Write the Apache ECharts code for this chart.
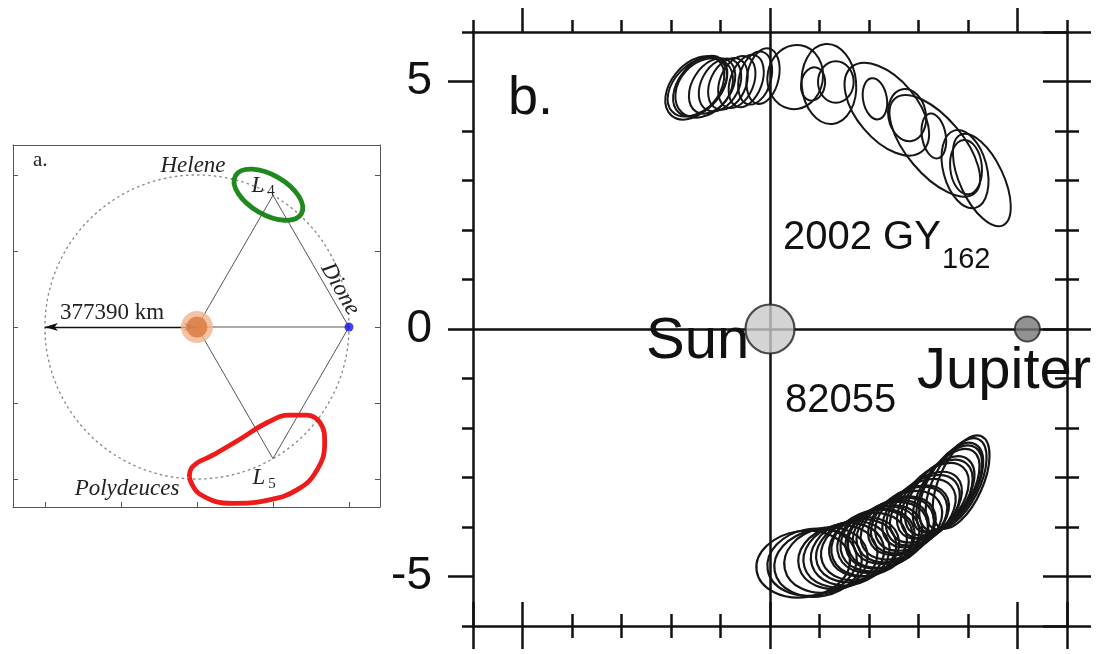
<!DOCTYPE html>
<html>
<head>
<meta charset="utf-8">
<script src="https://cdn.jsdelivr.net/npm/echarts@6/dist/echarts.min.js"></script>
<style>
  html, body { margin: 0; padding: 0; background: #fff; }
  #chart { width: 1110px; height: 654px; }
</style>
</head>
<body>
<div id="chart"></div>
<script>
  // panel a: Saturn system, distances in units of Dione's orbit radius
  const orbitR = 1;
  const saturnPos = [0, 0];
  const dionePos = [1, 0];
  const rhombX = [0, 0.5, 1, 0.5, 0];
  const rhombY = [0, 0.866, 0, -0.866, 0];
  // Helene loop: centre x, centre y, semi-major, semi-minor, angle (deg)
  const heleneLoop = [0.47, 0.87, 0.25, 0.13, -30];
  const polyX = [-0.05, 0.02, 0.24, 0.46, 0.66, 0.79, 0.84, 0.81, 0.72, 0.61, 0.46, 0.28, 0.11, -0.03, -0.05];
  const polyY = [-0.99, -1.10, -1.16, -1.14, -1.07, -0.94, -0.76, -0.63, -0.58, -0.58, -0.63, -0.74, -0.84, -0.92, -0.99];

  // panel b: heliocentric frame (AU), loops of 2002 GY162 and 82055
  const sunPos = [0, 0];
  const jupiterPos = [5.2, 0];
  const gyX = [-1.52, -1.47, -1.41, -1.33, -1.17, -1.01, -0.85, -0.67, -0.48, -0.30, -0.14, 0.51, 0.87, 1.19, 1.33, 2.36, 2.12, 2.77, 3.31, 3.33, 3.96, 3.94, 4.28];
  const gyY = [4.87, 4.89, 4.91, 4.87, 4.91, 4.93, 4.95, 4.99, 5.01, 5.07, 5.11, 5.09, 4.95, 4.95, 4.99, 4.44, 4.65, 4.32, 3.90, 3.70, 3.27, 3.23, 3.01];
  const gyA = [0.73, 0.71, 0.69, 0.67, 0.61, 0.57, 0.55, 0.55, 0.55, 0.55, 0.57, 0.65, 0.34, 0.81, 0.42, 1.11, 0.42, 0.53, 0.46, 1.25, 0.55, 0.81, 1.01];
  const gyB = [0.48, 0.46, 0.44, 0.50, 0.40, 0.38, 0.36, 0.34, 0.32, 0.32, 0.32, 0.56, 0.24, 0.55, 0.36, 0.61, 0.24, 0.38, 0.24, 0.57, 0.32, 0.44, 0.44];
  const gyRot = [50, 45, 52, 48, 58, 62, 65, 68, 70, 74, 78, 80, 80, 95, 90, 130, 100, 100, 100, 130, 95, 105, 115];
  const ngX = [0.67, 0.85, 0.97, 1.13, 1.37, 1.49, 1.62, 1.74, 1.82, 1.98, 2.06, 2.14, 2.22, 2.30, 2.38, 2.44, 2.53, 2.59, 2.73, 2.81, 2.87, 3.01, 3.09, 3.15, 3.29, 3.37, 3.43, 3.56, 3.62, 3.66, 3.76, 3.86];
  const ngY = [-4.75, -4.71, -4.73, -4.67, -4.61, -4.57, -4.53, -4.48, -4.44, -4.36, -4.32, -4.28, -4.24, -4.20, -4.16, -4.10, -4.06, -4.02, -3.92, -3.86, -3.82, -3.72, -3.66, -3.60, -3.47, -3.43, -3.37, -3.27, -3.23, -3.19, -3.13, -3.09];
  const ngA = [0.95, 0.91, 0.89, 0.85, 0.81, 0.83, 0.81, 0.83, 0.81, 0.81, 0.85, 0.81, 0.83, 0.81, 0.85, 0.81, 0.83, 0.81, 0.81, 0.85, 0.83, 0.85, 0.87, 0.87, 0.91, 0.93, 0.93, 0.97, 0.99, 0.99, 1.01, 1.01];
  const ngB = [0.67, 0.67, 0.67, 0.65, 0.63, 0.63, 0.63, 0.61, 0.61, 0.61, 0.63, 0.61, 0.61, 0.59, 0.61, 0.59, 0.59, 0.57, 0.57, 0.57, 0.55, 0.55, 0.55, 0.53, 0.53, 0.53, 0.51, 0.48, 0.48, 0.48, 0.46, 0.44];
  const ngRot = [8, 10, 11, 12, 15, 17, 18, 19, 20, 22, 23, 24, 25, 26, 27, 28, 29, 30, 33, 35, 36, 40, 42, 44, 48, 50, 52, 56, 58, 60, 63, 66];

  const smallTicksA = [-1, -0.5, 0, 0.5, 1];
  const majorTicksB = [-5, 0, 5];
  const edgeTicksB = [-6, -5, 0, 5, 6];

  const zip = (...cols) => cols[0].map((_, i) => cols.map(c => c[i]));

  const serif = 'Liberation Serif';
  const sans = 'Liberation Sans';

  function ellipseItem (color, width) {
    return function (params, api) {
      const c = api.coord([api.value(0), api.value(1)]);
      const s = api.size([api.value(2), api.value(3)]);
      return {
        type: 'ellipse',
        x: c[0],
        y: c[1],
        rotation: api.value(4) * Math.PI / 180,
        shape: {cx: 0, cy: 0, rx: s[0], ry: s[1]},
        style: {fill: 'none', stroke: color, lineWidth: width}
      };
    };
  }

  // panel a frame
  function axisA (dim, position, ticks) {
    return {
      gridIndex: 0,
      type: 'value',
      position: position,
      min: dim === 'x' ? -1.21 : -1.184,
      max: dim === 'x' ? 1.204 : 1.197,
      axisLine: {show: true, onZero: false, lineStyle: {color: '#555', width: 1}},
      axisTick: {show: ticks, inside: true, length: 5, customValues: smallTicksA, lineStyle: {color: '#555', width: 1}},
      axisLabel: {show: false},
      splitLine: {show: false}
    };
  }

  // panel b frame: several axes per side so that ticks can be long/short and cross the line
  function axisB (position, tick, line, label) {
    return {
      gridIndex: 1,
      type: 'value',
      position: position,
      min: -6,
      max: 6,
      interval: 1,
      axisLine: {show: !!line, onZero: false, lineStyle: {color: '#111', width: 2.5}},
      axisTick: Object.assign({show: true, lineStyle: {color: '#111', width: 2.5}}, tick),
      axisLabel: label || {show: false},
      splitLine: {show: false}
    };
  }

  const myChart = echarts.init(document.getElementById('chart'));
  myChart.setOption({
    backgroundColor: '#fff',
    animation: false,
    grid: [
      {left: 13, top: 145, width: 367, height: 362, outerBoundsMode: 'none'},
      {left: 473, top: 32, width: 594, height: 594, outerBoundsMode: 'none'}
    ],
    xAxis: [
      axisA('x', 'bottom', true),
      axisA('x', 'top', false),
      axisB('bottom', {inside: true, length: 12}, true),
      axisB('bottom', {inside: false, length: 12}),
      axisB('bottom', {inside: true, length: 24, customValues: edgeTicksB}),
      axisB('bottom', {inside: false, length: 23, customValues: edgeTicksB}),
      axisB('top', {inside: false, length: 12}, true),
      axisB('top', {inside: false, length: 24, customValues: majorTicksB})
    ],
    yAxis: [
      axisA('y', 'left', true),
      axisA('y', 'right', true),
      axisB('left', {inside: false, length: 11}, true),
      axisB('left', {inside: false, length: 25, customValues: majorTicksB}, false, {
        show: true, customValues: majorTicksB, margin: 41,
        fontFamily: sans, fontSize: 46, color: '#111'
      }),
      axisB('right', {inside: true, length: 12}, true),
      axisB('right', {inside: false, length: 12}),
      axisB('right', {inside: true, length: 24, customValues: edgeTicksB}),
      axisB('right', {inside: false, length: 24, customValues: edgeTicksB})
    ],
    series: [
      {
        // dotted orbit of Dione
        type: 'custom',
        xAxisIndex: 0,
        yAxisIndex: 0,
        silent: true,
        data: [[saturnPos[0], saturnPos[1], orbitR]],
        renderItem: function (params, api) {
          const c = api.coord([api.value(0), api.value(1)]);
          const r = api.size([api.value(2), 0])[0];
          return {
            type: 'circle',
            shape: {cx: c[0], cy: c[1], r: r},
            style: {fill: 'none', stroke: '#8a8a8a', lineWidth: 1.4, lineDash: [1.4, 4.2], lineCap: 'round'}
          };
        }
      },
      {
        type: 'line',
        xAxisIndex: 0,
        yAxisIndex: 0,
        silent: true,
        symbol: 'none',
        data: zip(rhombX, rhombY),
        lineStyle: {color: '#555', width: 1},
        markLine: {
          silent: true,
          symbol: ['arrow', 'arrow'],
          symbolSize: [6, 13],
          label: {show: false},
          lineStyle: {color: '#111', width: 1.3, type: 'solid'},
          data: [[{coord: saturnPos}, {coord: [saturnPos[0] - orbitR, saturnPos[1]]}]]
        }
      },
      {
        type: 'line',
        xAxisIndex: 0,
        yAxisIndex: 0,
        silent: true,
        symbol: 'none',
        data: [saturnPos, dionePos],
        lineStyle: {color: '#555', width: 1}
      },
      {
        type: 'custom',
        xAxisIndex: 0,
        yAxisIndex: 0,
        silent: true,
        data: [heleneLoop],
        renderItem: ellipseItem('#1e8a1e', 4.8)
      },
      {
        type: 'line',
        xAxisIndex: 0,
        yAxisIndex: 0,
        silent: true,
        symbol: 'none',
        smooth: 0.45,
        data: zip(polyX, polyY),
        lineStyle: {color: '#ee1b1b', width: 4.8}
      },
      {
        type: 'scatter',
        xAxisIndex: 0,
        yAxisIndex: 0,
        silent: true,
        z: 5,
        data: [
          {value: saturnPos, symbolSize: 32, itemStyle: {color: '#f2b48c'}},
          {value: saturnPos, symbolSize: 21, itemStyle: {color: '#d8783c'}},
          {value: dionePos, symbolSize: 9, itemStyle: {color: '#1414f0'}}
        ]
      },
      {
        type: 'custom',
        xAxisIndex: 2,
        yAxisIndex: 2,
        silent: true,
        data: zip(gyX, gyY, gyA, gyB, gyRot),
        renderItem: ellipseItem('#161616', 2),
        markLine: {
          silent: true,
          symbol: 'none',
          label: {show: false},
          lineStyle: {color: '#111', width: 2.5, type: 'solid'},
          data: [{xAxis: 0}, {yAxis: 0}]
        }
      },
      {
        type: 'custom',
        xAxisIndex: 2,
        yAxisIndex: 2,
        silent: true,
        data: zip(ngX, ngY, ngA, ngB, ngRot),
        renderItem: ellipseItem('#161616', 2.2)
      },
      {
        type: 'scatter',
        xAxisIndex: 2,
        yAxisIndex: 2,
        silent: true,
        z: 6,
        data: [
          {value: sunPos, symbolSize: 49, itemStyle: {color: '#c9c9c9', borderColor: '#222', borderWidth: 2.2}},
          {value: jupiterPos, symbolSize: 25, itemStyle: {color: '#777', borderColor: '#222', borderWidth: 2}}
        ]
      }
    ],
    graphic: [
      {type: 'text', x: 33, y: 160, z: 10, style: {text: 'a.', font: '21px "' + serif + '"', fill: '#222', verticalAlign: 'middle'}},
      {type: 'text', x: 193, y: 166, z: 10, style: {text: 'Helene', font: 'italic 23px "' + serif + '"', fill: '#222', align: 'center', verticalAlign: 'middle'}},
      {type: 'text', x: 258, y: 186, z: 10, style: {text: 'L', font: 'italic 23px "' + serif + '"', fill: '#222', align: 'center', verticalAlign: 'middle'}},
      {type: 'text', x: 271, y: 191, z: 10, style: {text: '4', font: '15px "' + serif + '"', fill: '#222', align: 'center', verticalAlign: 'middle'}},
      {type: 'text', x: 60, y: 313, z: 10, style: {text: '377390 km', font: '23px "' + serif + '"', fill: '#222', verticalAlign: 'middle'}},
      {type: 'text', x: 340, y: 289, z: 10, rotation: -Math.PI / 3, style: {text: 'Dione', font: 'italic 23px "' + serif + '"', fill: '#222', align: 'center', verticalAlign: 'middle'}},
      {type: 'text', x: 127, y: 489, z: 10, style: {text: 'Polydeuces', font: 'italic 23px "' + serif + '"', fill: '#222', align: 'center', verticalAlign: 'middle'}},
      {type: 'text', x: 259, y: 478, z: 10, style: {text: 'L', font: 'italic 23px "' + serif + '"', fill: '#222', align: 'center', verticalAlign: 'middle'}},
      {type: 'text', x: 272, y: 484, z: 10, style: {text: '5', font: '15px "' + serif + '"', fill: '#222', align: 'center', verticalAlign: 'middle'}},

      {type: 'text', x: 508, y: 99, z: 10, style: {text: 'b.', font: '54px "' + sans + '"', fill: '#111', verticalAlign: 'middle'}},
      {type: 'text', x: 783, y: 238, z: 10, style: {text: '2002 GY', font: '40px "' + sans + '"', fill: '#111', verticalAlign: 'middle'}},
      {type: 'text', x: 942, y: 260, z: 10, style: {text: '162', font: '29px "' + sans + '"', fill: '#111', verticalAlign: 'middle'}},
      {type: 'text', x: 646, y: 342, z: 10, style: {text: 'Sun', font: '58px "' + sans + '"', fill: '#111', verticalAlign: 'middle'}},
      {type: 'text', x: 917, y: 372, z: 10, style: {text: 'Jupiter', font: '58px "' + sans + '"', fill: '#111', verticalAlign: 'middle'}},
      {type: 'text', x: 785, y: 401, z: 10, style: {text: '82055', font: '40px "' + sans + '"', fill: '#111', verticalAlign: 'middle'}}
    ]
  });
</script>
</body>
</html>
